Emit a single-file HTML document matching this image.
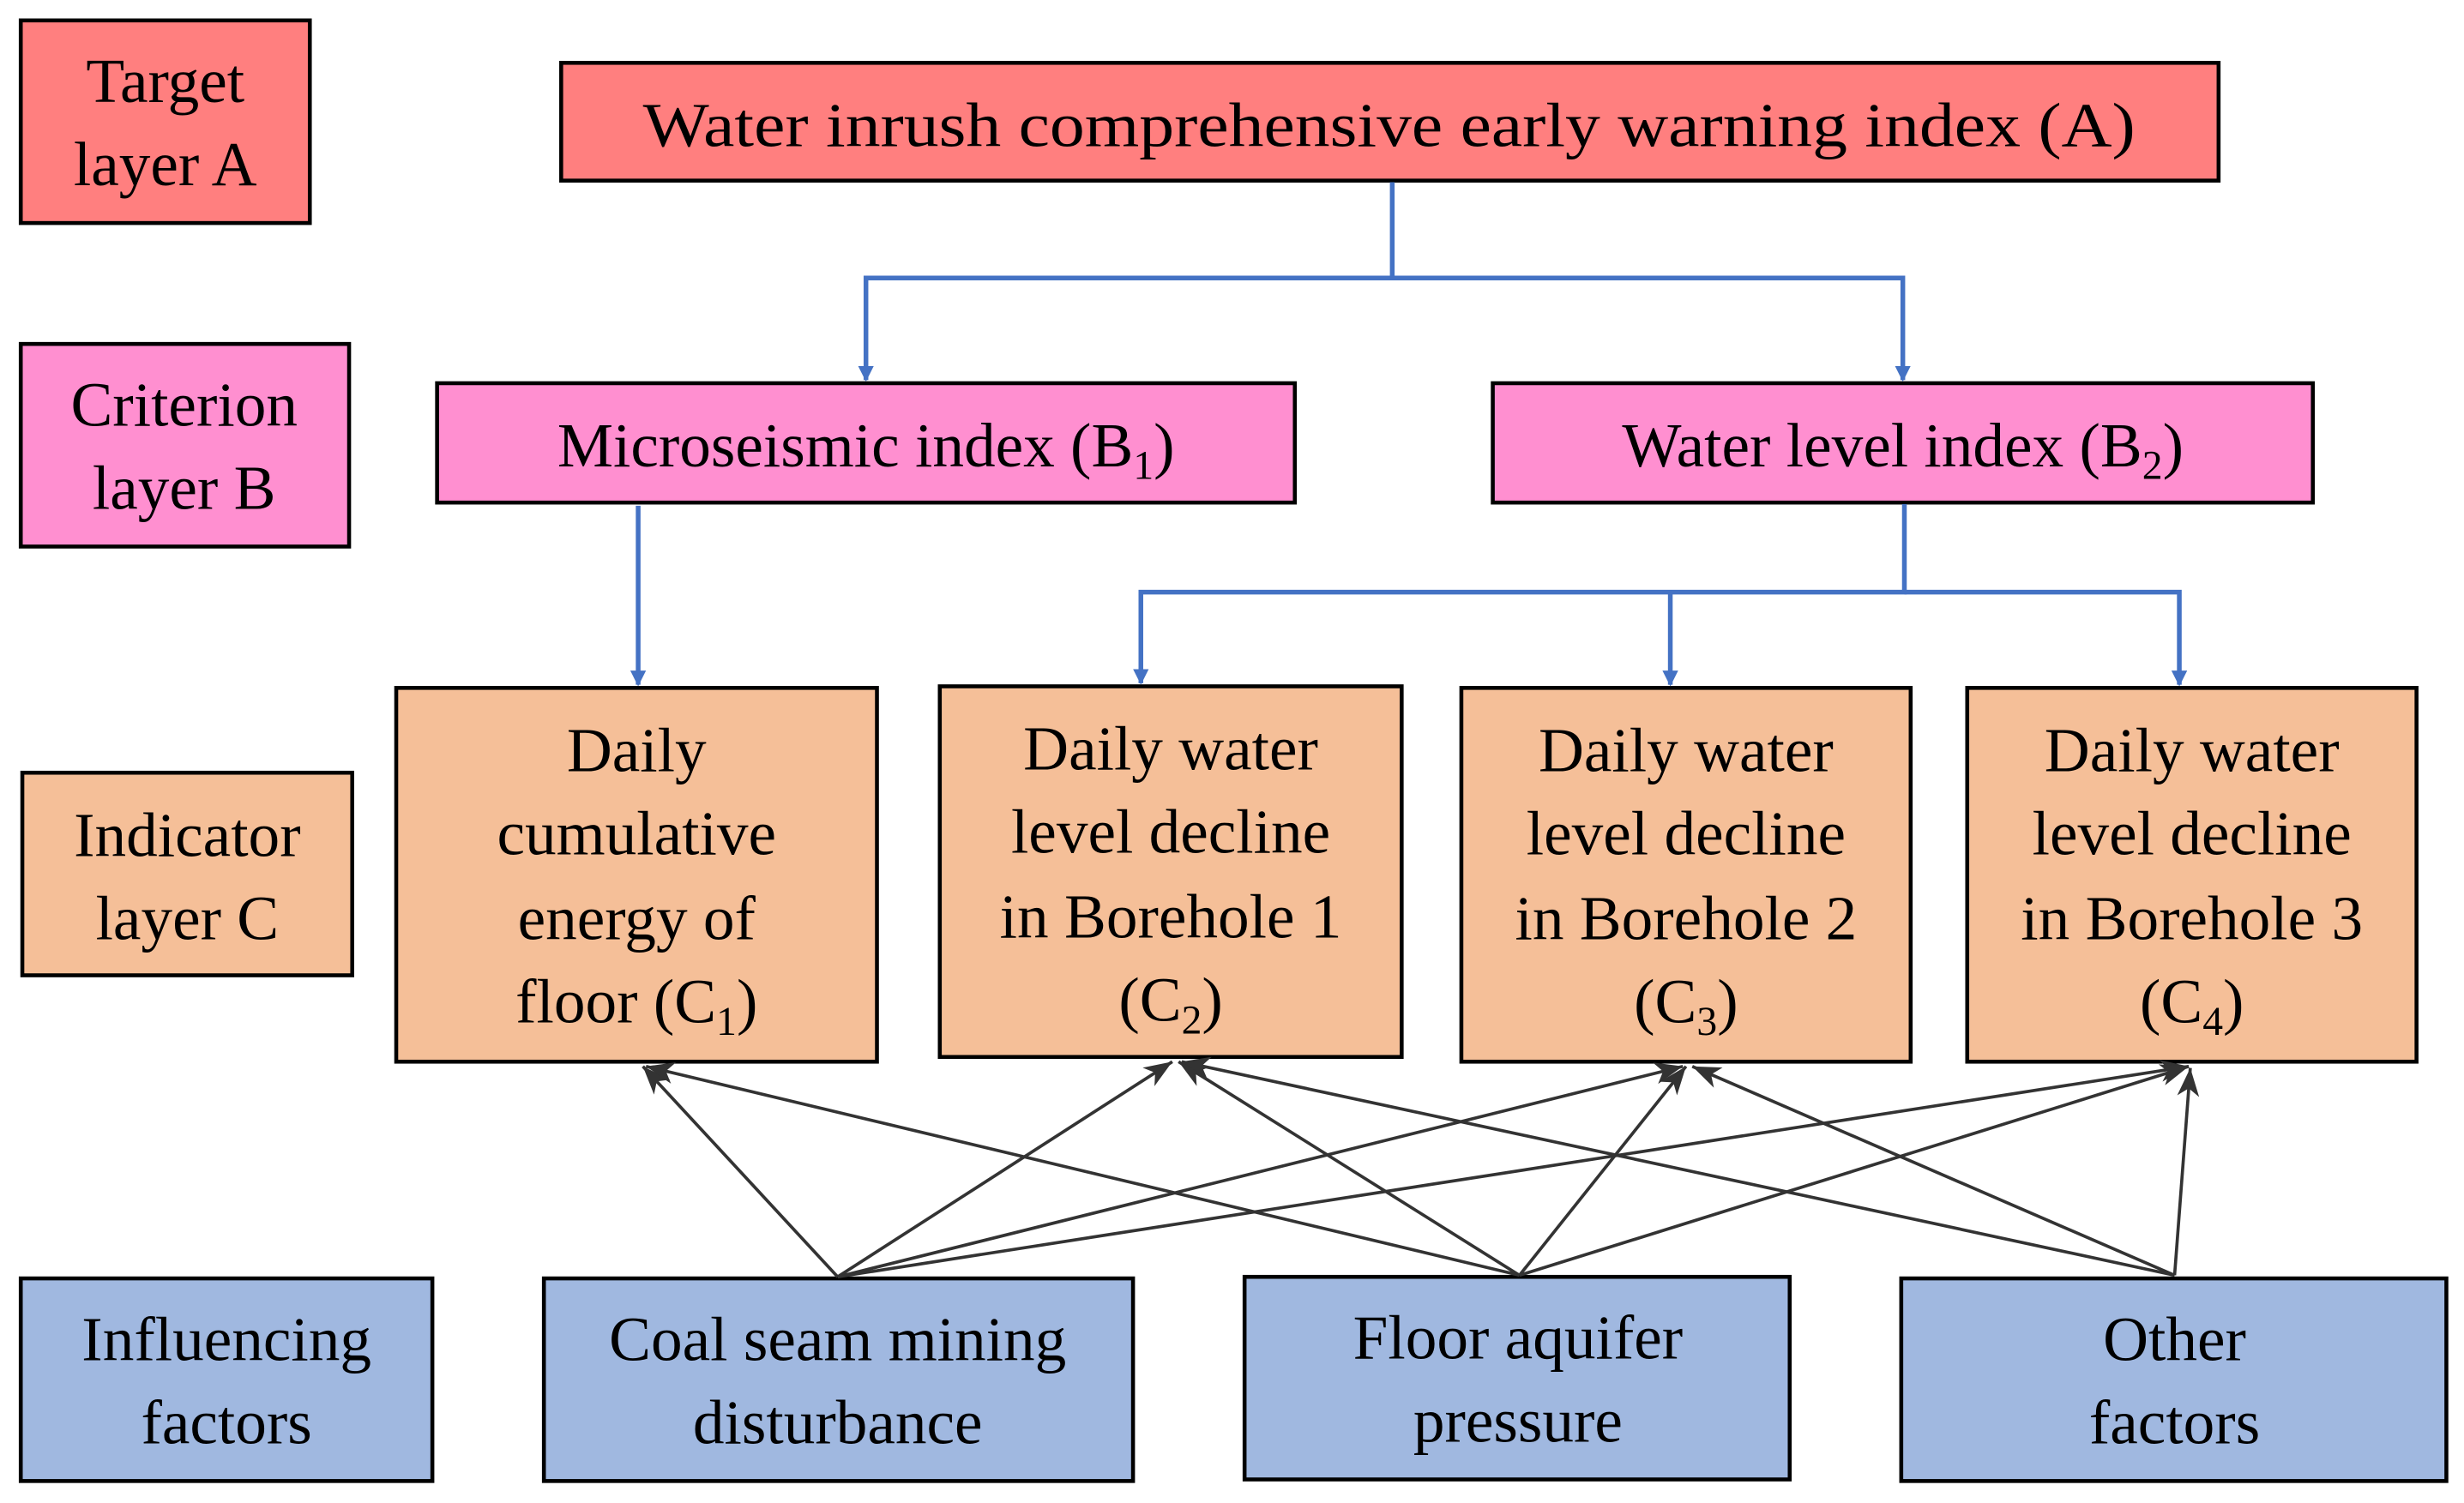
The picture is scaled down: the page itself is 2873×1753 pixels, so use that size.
<!DOCTYPE html>
<html><head><meta charset="utf-8"><style>
html,body{margin:0;padding:0;background:#fff;}
svg{display:block;}
text{font-family:"Liberation Serif",serif;font-size:40px;fill:#000;text-anchor:middle;}
.s{font-size:26px;}
</style></head><body>
<svg width="2873" height="1753" viewBox="0 0 1568 957" xmlns="http://www.w3.org/2000/svg">
<defs>
<marker id="bl" markerWidth="10" markerHeight="10" refX="9" refY="5" orient="auto" markerUnits="userSpaceOnUse"><path d="M0,0 L10,5 L0,10 Z" fill="#4472C4"/></marker>
<marker id="bk" markerWidth="20" markerHeight="14" refX="18" refY="7" orient="auto" markerUnits="userSpaceOnUse"><path d="M0,0 L18,7 L0,14 L5,7 Z" fill="#333"/></marker>
</defs>
<g stroke="#000" stroke-width="2.5">
<rect x="13" y="13" width="184" height="129" fill="#FF7F7F"/>
<rect x="357" y="40" width="1055" height="75" fill="#FF7F7F"/>
<rect x="13" y="219" width="209" height="129" fill="#FF8FD0"/>
<rect x="278" y="244" width="546" height="76" fill="#FF8FD0"/>
<rect x="950" y="244" width="522" height="76" fill="#FF8FD0"/>
<rect x="14" y="492" width="210" height="129" fill="#F5BF98"/>
<rect x="252" y="438" width="306" height="238" fill="#F5BF98"/>
<rect x="598" y="437" width="294" height="236" fill="#F5BF98"/>
<rect x="930" y="438" width="286" height="238" fill="#F5BF98"/>
<rect x="1252" y="438" width="286" height="238" fill="#F5BF98"/>
<rect x="13" y="814" width="262" height="129" fill="#A0B8E0"/>
<rect x="346" y="814" width="375" height="129" fill="#A0B8E0"/>
<rect x="792" y="813" width="347" height="129" fill="#A0B8E0"/>
<rect x="1210" y="814" width="347" height="129" fill="#A0B8E0"/>
</g>
<g stroke="#4472C4" stroke-width="3" fill="none">
<path d="M886,116 V177 H551 V242" marker-end="url(#bl)"/>
<path d="M886,177 H1211 V242" marker-end="url(#bl)"/>
<path d="M406,322 V436" marker-end="url(#bl)"/>
<path d="M1212,321 V377 H726 V435" marker-end="url(#bl)"/>
<path d="M1063,377 V436" marker-end="url(#bl)"/>
<path d="M1212,377 H1387 V436" marker-end="url(#bl)"/>
</g>
<g stroke="#333" stroke-width="2" marker-end="url(#bk)">
<line x1="533" y1="813" x2="409" y2="679"/>
<line x1="533" y1="813" x2="746" y2="676"/>
<line x1="533" y1="813" x2="1071" y2="679"/>
<line x1="533" y1="813" x2="1393" y2="679"/>
<line x1="967" y1="812" x2="411" y2="679"/>
<line x1="967" y1="812" x2="750" y2="676"/>
<line x1="967" y1="812" x2="1073" y2="679"/>
<line x1="967" y1="812" x2="1393" y2="679"/>
<line x1="1384" y1="812" x2="752" y2="676"/>
<line x1="1384" y1="812" x2="1077" y2="679"/>
<line x1="1384" y1="812" x2="1394" y2="680"/>
</g>
<text x="105" y="65">Target</text><text x="105" y="118">layer A</text>
<text x="884" y="93" textLength="950" lengthAdjust="spacingAndGlyphs">Water inrush comprehensive early warning index (A)</text>
<text x="117" y="271">Criterion</text><text x="117" y="324">layer B</text>
<text x="551" y="297">Microseismic index (B<tspan class="s" dy="8">1</tspan><tspan dy="-8">)</tspan></text>
<text x="1211" y="297">Water level index (B<tspan class="s" dy="8">2</tspan><tspan dy="-8">)</tspan></text>
<text x="119" y="545">Indicator</text><text x="119" y="598">layer C</text>
<text x="405" y="491">Daily</text><text x="405" y="544">cumulative</text><text x="405" y="598">energy of</text>
<text x="405" y="651">floor (C<tspan class="s" dy="8">1</tspan><tspan dy="-8">)</tspan></text>
<text x="745" y="490">Daily water</text><text x="745" y="543">level decline</text><text x="745" y="597">in Borehole 1</text>
<text x="745" y="650">(C<tspan class="s" dy="8">2</tspan><tspan dy="-8">)</tspan></text>
<text x="1073" y="491">Daily water</text><text x="1073" y="544">level decline</text><text x="1073" y="598">in Borehole 2</text>
<text x="1073" y="651">(C<tspan class="s" dy="8">3</tspan><tspan dy="-8">)</tspan></text>
<text x="1395" y="491">Daily water</text><text x="1395" y="544">level decline</text><text x="1395" y="598">in Borehole 3</text>
<text x="1395" y="651">(C<tspan class="s" dy="8">4</tspan><tspan dy="-8">)</tspan></text>
<text x="144" y="866">Influencing</text><text x="144" y="919">factors</text>
<text x="533" y="866">Coal seam mining</text><text x="533" y="919">disturbance</text>
<text x="966" y="865">Floor aquifer</text><text x="966" y="918">pressure</text>
<text x="1384" y="866">Other</text><text x="1384" y="919">factors</text>
</svg>
</body></html>
